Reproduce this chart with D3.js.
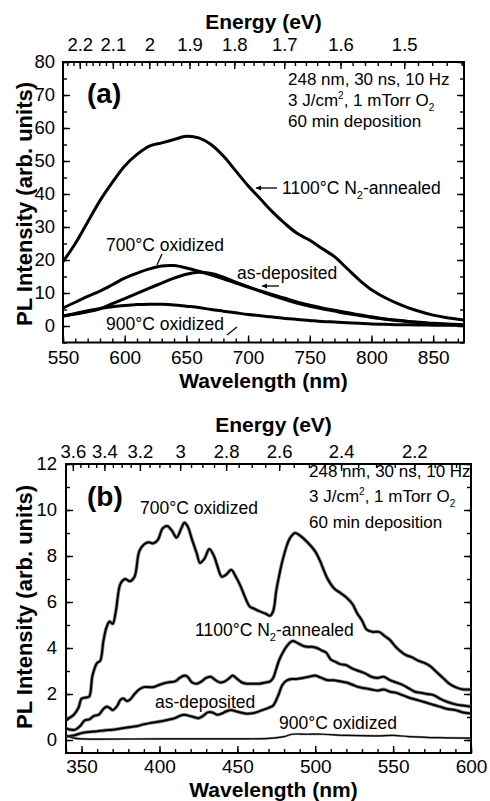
<!DOCTYPE html>
<html>
<head>
<meta charset="utf-8">
<script src="https://cdn.jsdelivr.net/npm/d3@7"></script>
<style>
  body { margin: 0; background: #fff; }
  svg { display: block; }
</style>
</head>
<body>
<svg id="chart" width="490" height="801"></svg>
<script>
// Photon energy (eV) = HC / wavelength (nm)
const HC = 1239.84;

// ---------- Panel (a): visible PL spectra ----------
const wavelengthA = [550,560,570,580,590,600,610,620,630,640,650,660,670,680,690,700,710,720,730,740,750,760,770,780,790,800,810,820,830,840,850,860,875];
const annealed1100A = [19.5,25,31.5,38,43.5,48.5,52,54.5,55.5,56.5,57.5,57,55,51.5,47,42.5,38.5,34.5,31,28,26,23.5,21,17.5,14,11,8.8,7,5.5,4.3,3.3,2.6,1.8];
const oxidized700A = [5.5,7.2,9,10.6,12.5,14.5,16,17.3,18.2,18.3,17.6,16.6,15.5,14.3,13,11.8,10.6,9.5,8.4,7.2,6.3,5.5,4.8,4.1,3.4,2.8,2.2,1.8,1.4,1.1,0.8,0.6,0.4];
const asDepositedA = [3.0,3.6,4.3,5.2,6.8,8.3,9.9,11.5,13,14.5,15.7,16.3,15.9,14.8,13.3,11.9,10.5,9.2,8.0,6.9,6.0,5.2,4.5,3.8,3.2,2.6,2.1,1.7,1.3,1.0,0.7,0.5,0.3];
const oxidized900A = [3.0,3.8,4.6,5.3,5.8,6.2,6.5,6.6,6.6,6.4,6.0,5.6,5.0,4.5,4.0,3.5,3.1,2.7,2.3,2.0,1.7,1.4,1.2,1.0,0.8,0.6,0.5,0.4,0.35,0.3,0.25,0.2,0.2];

const wlTicksA = [550,600,650,700,750,800,850];
const yTicksA = [0,10,20,30,40,50,60,70,80];
const energyTicksA = [2.2,2.1,2.0,1.9,1.8,1.7,1.6,1.5];
const energyLabelsA = ["2.2","2.1","2","1.9","1.8","1.7","1.6","1.5"];

// ---------- Panel (b): UV-blue PL spectra ----------
const wl700B = [340,342,345,348,350,353,355,357,360,362,364,366,368,370,372,375,378,381,384,387,390,393,396,399,402,405,408,411,414,416,418,421,424,426,429,432,435,437,440,443,446,449,452,455,458,461,464,468,471,473,475,477,479,482,484,487,490,495,500,503,506,508,512,516,520,524,527,530,533,537,541,545,548,551,554,558,562,566,570,574,578,582,586,590,595,600];
const oxidized700B = [0.85,0.95,1.1,1.4,1.8,1.85,1.9,2.8,3.35,3.45,4.3,4.9,5.15,5.05,5.6,6.8,7.0,6.9,7.1,8.2,8.5,8.6,8.55,8.7,9.2,9.3,9.1,8.8,9.2,9.45,9.3,8.7,8.1,7.7,7.9,8.3,8.0,7.6,7.1,7.2,7.4,7.1,6.7,6.2,5.8,5.7,5.6,5.5,5.4,5.6,6.5,7.2,7.8,8.5,8.8,9.0,8.9,8.6,8.2,7.8,7.3,7.0,6.6,6.4,6.2,5.9,5.5,5.2,4.8,4.7,4.7,4.5,4.35,4.1,3.9,3.7,3.6,3.45,3.35,3.2,2.95,2.7,2.45,2.3,2.2,2.2];

const wl1100B = [340,343,346,349,352,355,358,361,364,366,368,370,373,375,377,379,381,384,387,390,393,396,400,405,410,413,416,418,421,424,427,430,433,436,439,442,445,447,450,453,456,460,464,468,471,473,475,477,480,482,484,486,489,492,495,498,501,504,507,510,513,516,520,524,528,532,536,540,544,548,552,556,560,564,568,572,576,580,585,590,595,600];
const annealed1100B = [0.5,0.45,0.45,0.6,0.85,0.9,1.05,1.1,1.35,1.45,1.4,1.3,1.5,1.75,1.8,1.7,1.75,2.0,2.2,2.3,2.3,2.3,2.4,2.5,2.55,2.7,2.8,2.75,2.5,2.45,2.55,2.7,2.75,2.6,2.5,2.55,2.7,2.8,2.65,2.5,2.45,2.45,2.45,2.5,2.55,2.7,3.1,3.5,3.9,4.1,4.25,4.3,4.2,4.1,4.05,4.05,4.0,3.9,3.8,3.5,3.4,3.3,3.25,3.1,3.0,2.9,2.75,2.7,2.75,2.6,2.5,2.4,2.25,2.1,2.05,2.0,1.95,1.8,1.65,1.55,1.5,1.45];

const wlAsDepB = [340,345,350,355,360,365,370,375,380,385,390,395,400,405,410,413,416,419,422,425,428,431,434,437,440,443,446,449,452,455,458,462,466,470,473,476,479,482,485,488,492,496,500,504,508,512,516,520,524,528,532,536,540,544,548,552,556,560,565,570,575,580,585,590,595,600];
const asDepositedB = [0.15,0.2,0.3,0.35,0.38,0.42,0.45,0.5,0.55,0.6,0.68,0.75,0.8,0.87,0.95,1.05,1.1,1.05,1.0,0.95,1.05,1.2,1.2,1.1,1.15,1.25,1.3,1.25,1.2,1.15,1.15,1.2,1.3,1.4,1.5,1.9,2.4,2.6,2.65,2.65,2.7,2.75,2.8,2.7,2.6,2.6,2.55,2.5,2.4,2.3,2.25,2.2,2.15,2.2,2.1,2.05,1.95,1.85,1.75,1.65,1.55,1.45,1.35,1.3,1.2,1.15];

const wl900B = [340,342,345,350,400,450,470,480,485,495,505,520,540,550,560,580,600];
const oxidized900B = [0.2,0.15,0.08,0.05,0.05,0.05,0.07,0.15,0.25,0.25,0.25,0.2,0.18,0.2,0.15,0.1,0.08];

const wlTicksB = [350,400,450,500,550,600];
const yTicksB = [0,2,4,6,8,10,12];
const energyTicksB = [3.6,3.4,3.2,3.0,2.8,2.6,2.4,2.2];
const energyLabelsB = ["3.6","3.4","3.2","3","2.8","2.6","2.4","2.2"];

const FONT = '"Liberation Sans", Arial, Helvetica, sans-serif';
const svg = d3.select('#chart');

function styleAxis(sel) {
  sel.select('.domain').remove();
  sel.selectAll('line').attr('stroke', '#000').attr('stroke-width', 1.4);
  sel.selectAll('text').attr('font-family', FONT).attr('fill', '#000');
}

function rangeStep(lo, hi, step) {
  const out = [];
  for (let k = Math.ceil(lo / step - 1e-9); k * step <= hi + 1e-9; k++) out.push(+(k * step).toFixed(4));
  return out;
}

function drawPanel(cfg) {
  const g = svg.append('g');
  const x = d3.scaleLinear().domain(cfg.xDomain).range([cfg.left, cfg.right]);
  const y = d3.scaleLinear().domain(cfg.yDomain).range([cfg.bottom, cfg.top]);
  const eMin = HC / cfg.xDomain[1], eMax = HC / cfg.xDomain[0];

  // bottom wavelength axis
  g.append('g').attr('transform', `translate(0,${cfg.bottom})`)
    .call(d3.axisBottom(x).tickValues(rangeStep(cfg.xDomain[0], cfg.xDomain[1], 10)).tickFormat(() => '').tickSizeInner(-4).tickSizeOuter(0))
    .call(styleAxis);
  g.append('g').attr('transform', `translate(0,${cfg.bottom})`)
    .call(d3.axisBottom(x).tickValues(cfg.wlTicks).tickFormat(d3.format('d')).tickSizeInner(-7).tickSizeOuter(0).tickPadding(cfg.bottomPad))
    .call(styleAxis)
    .selectAll('text').attr('font-size', cfg.bottomFont);

  // top energy axis, positioned through the wavelength scale
  g.append('g').attr('transform', `translate(0,${cfg.top})`)
    .call(d3.axisTop(x).tickValues(rangeStep(eMin, eMax, cfg.eMinorStep).map(e => HC / e)).tickFormat(() => '').tickSizeInner(-4).tickSizeOuter(0))
    .call(styleAxis);
  g.append('g').attr('transform', `translate(0,${cfg.top})`)
    .call(d3.axisTop(x).tickValues(cfg.energyTicks.map(e => HC / e)).tickFormat((d, i) => cfg.energyLabels[i]).tickSizeInner(-7).tickSizeOuter(0).tickPadding(cfg.topPad))
    .call(styleAxis)
    .selectAll('text').attr('font-size', cfg.topFont);

  // left and right intensity axes
  const yMinor = rangeStep(cfg.yDomain[0], cfg.yDomain[1], cfg.yMinorStep);
  g.append('g').attr('transform', `translate(${cfg.left},0)`)
    .call(d3.axisLeft(y).tickValues(yMinor).tickFormat(() => '').tickSizeInner(-4).tickSizeOuter(0))
    .call(styleAxis);
  g.append('g').attr('transform', `translate(${cfg.left},0)`)
    .call(d3.axisLeft(y).tickValues(cfg.yTicks).tickFormat(d3.format('d')).tickSizeInner(-7).tickSizeOuter(0).tickPadding(cfg.leftPad))
    .call(styleAxis)
    .selectAll('text').attr('font-size', cfg.leftFont);
  g.append('g').attr('transform', `translate(${cfg.right},0)`)
    .call(d3.axisRight(y).tickValues(yMinor).tickFormat(() => '').tickSizeInner(-4).tickSizeOuter(0))
    .call(styleAxis);
  g.append('g').attr('transform', `translate(${cfg.right},0)`)
    .call(d3.axisRight(y).tickValues(cfg.yTicks).tickFormat(() => '').tickSizeInner(-7).tickSizeOuter(0))
    .call(styleAxis);

  // frame
  g.append('rect')
    .attr('x', cfg.left).attr('y', cfg.top)
    .attr('width', cfg.right - cfg.left).attr('height', cfg.bottom - cfg.top)
    .attr('fill', 'none').attr('stroke', '#000').attr('stroke-width', 2);

  // spectra
  const clipId = 'clip-' + cfg.id;
  svg.append('clipPath').attr('id', clipId).append('rect')
    .attr('x', cfg.left).attr('y', cfg.top)
    .attr('width', cfg.right - cfg.left).attr('height', cfg.bottom - cfg.top);
  const curves = g.append('g').attr('clip-path', `url(#${clipId})`);
  cfg.series.forEach(s => {
    const pts = s.wl.map((w, i) => [w, s.values[i]]);
    const line = d3.line().x(d => x(d[0])).y(d => y(d[1])).curve(d3.curveCatmullRom.alpha(0.5));
    if (cfg.fuzz) {
      curves.append('path').attr('d', line(pts))
        .attr('fill', 'none').attr('stroke', '#6e6e6e').attr('stroke-width', s.fuzz ?? cfg.fuzz)
        .attr('stroke-linejoin', 'round').attr('opacity', 0.8);
    }
    curves.append('path').attr('d', line(pts))
      .attr('fill', 'none').attr('stroke', '#000').attr('stroke-width', s.width ?? cfg.lineWidth)
      .attr('stroke-linejoin', 'round').attr('stroke-linecap', 'round');
  });

  // axis titles
  g.append('text').attr('x', (cfg.left + cfg.right) / 2 + cfg.titleShift).attr('y', cfg.energyTitleY)
    .attr('text-anchor', 'middle').attr('font-family', FONT).attr('font-weight', 'bold').attr('font-size', 21)
    .text('Energy (eV)');
  g.append('text').attr('x', (cfg.left + cfg.right) / 2 + cfg.titleShift).attr('y', cfg.wlTitleY)
    .attr('text-anchor', 'middle').attr('font-family', FONT).attr('font-weight', 'bold').attr('font-size', 21)
    .text('Wavelength (nm)');
  g.append('text').attr('transform', `translate(${cfg.yTitleX},${cfg.yTitleY}) rotate(-90)`)
    .attr('text-anchor', 'middle').attr('font-family', FONT).attr('font-weight', 'bold').attr('font-size', 22)
    .text('PL Intensity (arb. units)');

  // panel letter
  g.append('text').attr('x', cfg.letter.x).attr('y', cfg.letter.y)
    .attr('font-family', FONT).attr('font-weight', 'bold').attr('font-size', 28)
    .text(cfg.letter.text);

  // deposition conditions
  const cond = g.append('g').attr('font-family', FONT).attr('font-size', 17);
  cond.append('text').attr('x', cfg.cond.x).attr('y', cfg.cond.y[0]).text('248 nm, 30 ns, 10 Hz');
  const l2 = cond.append('text').attr('x', cfg.cond.x).attr('y', cfg.cond.y[1]);
  l2.append('tspan').text('3 J/cm');
  l2.append('tspan').attr('font-size', 10).attr('dy', -7).text('2');
  l2.append('tspan').attr('dy', 7).text(', 1 mTorr O');
  l2.append('tspan').attr('font-size', 10).attr('dy', 5).text('2');
  cond.append('text').attr('x', cfg.cond.x).attr('y', cfg.cond.y[2]).text('60 min deposition');

  // curve labels
  const lab = g.append('g').attr('font-family', FONT).attr('font-size', 17.5);
  cfg.labels.forEach(L => {
    const t = lab.append('text').attr('x', L.x).attr('y', L.y);
    if (L.sub) {
      t.append('tspan').text('1100°C N');
      t.append('tspan').attr('font-size', 11).attr('dy', 5).text('2');
      t.append('tspan').attr('dy', -5).text('-annealed');
    } else {
      t.text(L.text);
    }
  });

  // pointers
  cfg.pointers.forEach(p => {
    g.append('line').attr('x1', p[0]).attr('y1', p[1]).attr('x2', p[2]).attr('y2', p[3])
      .attr('stroke', '#000').attr('stroke-width', 1.3);
    if (p[4]) {
      // small arrowhead at the (x2,y2) end
      const ang = Math.atan2(p[3] - p[1], p[2] - p[0]);
      const hl = 5, hw = 2.6;
      const bx = p[2] - hl * Math.cos(ang), by = p[3] - hl * Math.sin(ang);
      const nx = -Math.sin(ang) * hw, ny = Math.cos(ang) * hw;
      g.append('path').attr('d', `M${p[2]},${p[3]}L${bx + nx},${by + ny}L${bx - nx},${by - ny}Z`).attr('fill', '#000');
    }
  });
}

drawPanel({
  id: 'a', left: 63, right: 464, top: 62, bottom: 342.5,
  xDomain: [550, 875], yDomain: [-5, 80],
  wlTicks: wlTicksA, yTicks: yTicksA, yMinorStep: 5,
  energyTicks: energyTicksA, energyLabels: energyLabelsA, eMinorStep: 0.02,
  bottomPad: 8, topPad: 11, leftPad: 8,
  bottomFont: 19, topFont: 18.5, leftFont: 18.5,
  energyTitleY: 29, wlTitleY: 388, titleShift: 0,
  yTitleX: 32, yTitleY: 204,
  lineWidth: 3, fuzz: 0,
  letter: { text: '(a)', x: 87, y: 103 },
  cond: { x: 288, y: [85, 106, 127] },
  series: [
    { wl: wavelengthA, values: annealed1100A },
    { wl: wavelengthA, values: oxidized700A },
    { wl: wavelengthA, values: asDepositedA },
    { wl: wavelengthA, values: oxidized900A }
  ],
  labels: [
    { sub: true, x: 282, y: 194 },
    { text: '700°C oxidized', x: 106, y: 251 },
    { text: 'as-deposited', x: 237, y: 279 },
    { text: '900°C oxidized', x: 106, y: 330 }
  ],
  pointers: [
    [277, 188, 256, 188, true],
    [279, 286, 262, 286, true],
    [162, 254, 157, 265, false],
    [237, 327, 227, 335, false]
  ]
});

drawPanel({
  id: 'b', left: 66, right: 471, top: 464, bottom: 753,
  xDomain: [340, 600], yDomain: [-0.565, 12],
  wlTicks: wlTicksB, yTicks: yTicksB, yMinorStep: 1,
  energyTicks: energyTicksB, energyLabels: energyLabelsB, eMinorStep: 0.05,
  bottomPad: 7, topPad: 6, leftPad: 9,
  bottomFont: 19, topFont: 18.5, leftFont: 18.5,
  energyTitleY: 432, wlTitleY: 797, titleShift: 5,
  yTitleX: 32, yTitleY: 607,
  lineWidth: 2, fuzz: 3.6,
  letter: { text: '(b)', x: 87, y: 506 },
  cond: { x: 309, y: [477, 502, 528] },
  series: [
    { wl: wl700B, values: oxidized700B },
    { wl: wl1100B, values: annealed1100B },
    { wl: wlAsDepB, values: asDepositedB },
    { wl: wl900B, values: oxidized900B, width: 1.2, fuzz: 2.2 }
  ],
  labels: [
    { text: '700°C oxidized', x: 140, y: 514 },
    { sub: true, x: 195, y: 636 },
    { text: 'as-deposited', x: 155, y: 708 },
    { text: '900°C oxidized', x: 279, y: 729 }
  ],
  pointers: []
});
</script>
</body>
</html>
